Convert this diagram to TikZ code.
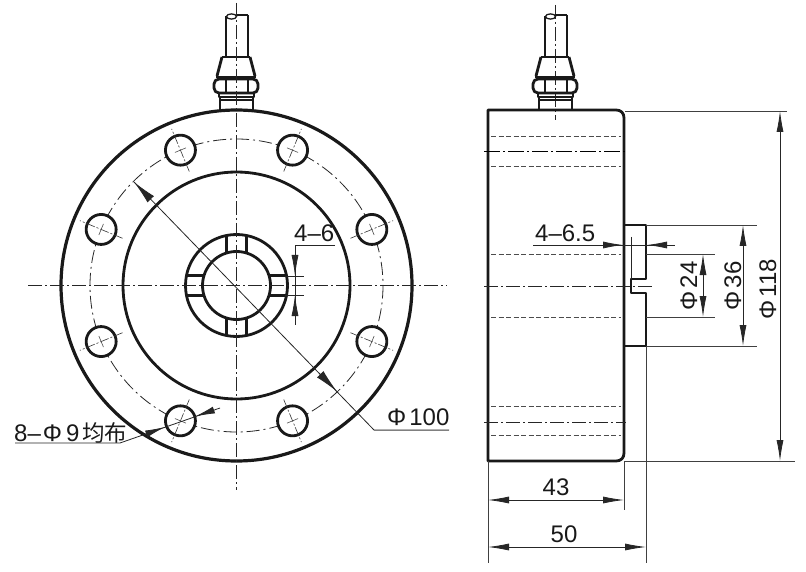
\documentclass[tikz,border=0pt]{standalone}
\usepackage{fontspec}
\setmainfont{Liberation Sans}
\newfontfamily\cjk{Noto Sans CJK SC}
\usetikzlibrary{arrows.meta}
\tikzset{
  x=1pt,y=-1pt,
  thickline/.style={line width=2.8pt,black!90,line join=round},
  medline/.style={line width=2pt,black!90,line join=round},
  thinline/.style={line width=0.8pt,black!75},
  dimline/.style={line width=0.8pt,black!85},
  cdash/.style={line width=0.8pt,black!85,dash pattern=on 14pt off 3pt on 2pt off 3pt},
  cdashdark/.style={line width=1pt,black,dash pattern=on 16pt off 3pt on 2pt off 3pt},
  hdash/.style={line width=0.8pt,black!70,dash pattern=on 5pt off 2.5pt},
  bcdash/.style={line width=0.8pt,black!85,dash pattern=on 13pt off 4pt on 2pt off 4pt},
  tips/.style={{Latex[length=21pt,width=7pt]}-{Latex[length=21pt,width=7pt]}},
  lbl/.style={inner sep=0pt,font=\fontsize{24}{26}\selectfont,text=black!90},
}
\newcommand{\plugshape}{%
  \draw[medline] (226,57) -- (226,16) (248,15) -- (248,57);
  \draw[medline] (236,15) -- (248,15);
  \draw[line width=1.3pt,black!90] (231.5,16.5) ellipse [x radius=5,y radius=2.6];
  \draw[medline] (222,57) -- (250,57);
  \draw[thickline] (222,57) -- (217,76) (250,57) -- (255,76);
  \draw[thickline] (216,77) -- (256,77);
  \draw[thickline,rounded corners=2pt] (217,79) -- (214,82) -- (214,90) -- (217,93) -- (255,93) -- (258,90) -- (258,82) -- (255,79) -- cycle;
  \draw[medline] (226,79) -- (226,93) (248,79) -- (248,93);
  \draw[medline] (219,93) -- (219,97) -- (254,97) -- (254,93);
  \draw[medline] (220,97) -- (220,109) (253,97) -- (253,109);
  \draw[medline] (220,100) -- (253,100);
}
\begin{document}
\begin{tikzpicture}
\useasboundingbox (0,0) rectangle (806,572);
\fill[white] (0,0) rectangle (806,572);

% ---- left view
\def\cx{236.5}\def\cy{285.5}
\plugshape
\draw[thickline,line width=3.2pt] (\cx,\cy) circle [radius=175.5];
\draw[thickline] (\cx,\cy) circle [radius=113.5];
\draw[bcdash] (\cx,\cy) circle [radius=146.5];
\foreach \a in {22.5,67.5,112.5,157.5,202.5,247.5,292.5,337.5}{
  \begin{scope}[shift={(\cx,\cy)}]
    \fill[white] (\a:146.5) circle [radius=15];
    \draw[thickline] (\a:146.5) circle [radius=15];
    \draw[line width=0.6pt,black!80,dash pattern=on 9pt off 2pt on 2pt off 2pt] (\a:123.5) -- (\a:169.5);
    \draw[line width=0.6pt,black!70] (\a:146.5) ++(\a+90:-6) -- ++(\a+90:12);
  \end{scope}
}
% hub
\draw[thickline] (\cx,\cy) circle [radius=51];
\draw[thickline] (\cx,\cy) circle [radius=34];
\foreach \a in {0,90,180,270}{
  \begin{scope}[shift={(\cx,\cy)},rotate=\a]
    \draw[line width=2.2pt,black!90] (33,10) -- (50,10) (33,-10) -- (50,-10);
  \end{scope}
}
\draw[cdash] (\cx,3) -- (\cx,490);
\draw[cdash] (28,\cy) -- (447,\cy);
% dim 4-6
\node[lbl,anchor=base west] (t46) at (294,242) {4–6};
\draw[dimline] (335,245) -- (295,245) -- (295,325);
\draw[dimline] (285,276) -- (304,276) (285,295) -- (304,295);
\draw[dimline,-{Latex[length=21pt,width=7pt]}] (295,254) -- (295,276);
\draw[dimline,-{Latex[length=21pt,width=7pt]}] (295,317) -- (295,295);
% dim diameter 100
\node[lbl,anchor=base west] (t100) at (387,425) {Φ\hspace{3pt}100};
\coordinate (dA) at (134,182);
\coordinate (dB) at (374,430);
\draw[dimline] (dA) -- (dB) -- (449,430);
\draw[dimline,-{Latex[length=24pt,width=9pt]}] (150,198.5) -- (dA);
\draw[dimline,-{Latex[length=24pt,width=9pt]}] (319,373) -- (337,391.5);
\draw[line width=1.4pt,black!50] (374,430.4) -- (449,430.4);
% holes label
\node[lbl,anchor=base west] (t8) at (14,441) {8–\hspace{2pt}Φ\hspace{4pt}9\hspace{3pt}{\cjk\fontsize{22.5}{24}\selectfont 均布}};
\draw[dimline] (15,443) -- (120,443) -- (220,408);
\draw[dimline,-{Latex[length=20pt,width=7pt]}] (146,434) -- (165,427);
\draw[dimline,-{Latex[length=20pt,width=7pt]}] (214,410) -- (195,416.5);

% ---- right view
\begin{scope}[xshift=319pt]
\draw[cdash] (236.5,5) -- (236.5,120);
\plugshape
\end{scope}
\draw[thickline] (488,110) -- (616,110) .. controls (621,110) and (624,113) .. (624,118)
  -- (624,453) .. controls (624,458) and (621,461) .. (616,461) -- (488,461) -- cycle;
\foreach \y in {136,166,254,317,406,435}{\draw[hdash] (491,\y) -- (621,\y);}
\draw[cdashdark] (484,152) -- (626,152);
\draw[cdash] (484,422) -- (626,422);
\draw[cdash] (484,286) -- (653,286);
% boss
\draw[thickline] (624,225) -- (646,225) -- (646,279) -- (631,279) -- (631,293) -- (646,293) -- (646,346) -- (624,346);
\draw[dimline] (631,237) -- (631,279);
% dims right
\draw[thinline] (625,111) -- (787,111) (625,461) -- (795,461);
\draw[thinline] (646,225) -- (757,225) (646,346) -- (757,346);
\draw[thinline] (646,254) -- (715,254) (646,317) -- (715,317);
\draw[thinline] (646,346) -- (646,563);
\draw[thinline] (488,461) -- (488,563);
\draw[thinline] (624,461) -- (624,510);
\draw[dimline,tips] (780,111) -- (780,461);
\draw[dimline,tips] (743,225) -- (743,346);
\draw[dimline,tips] (703,254) -- (703,317);
\draw[dimline,tips] (488,500) -- (624,500);
\draw[dimline,tips] (488,547) -- (646,547);
\node[lbl,rotate=90,anchor=base] (t24) at (697,286) {Φ\hspace{3pt}24};
\node[lbl,rotate=90,anchor=base] (t36) at (741,286) {Φ\hspace{3pt}36};
\node[lbl,rotate=90,anchor=base] (t118) at (776,289) {Φ\hspace{3pt}118};
\node[lbl,anchor=base] (t43) at (556,495) {43};
\node[lbl,anchor=base] (t50) at (564,542) {50};
% 4-6.5
\node[lbl,anchor=base west] (t465) at (535,242) {4–6.5};
\draw[dimline] (533,245) -- (675,245);
\draw[dimline,-{Latex[length=20pt,width=7pt]}] (604,245) -- (623,245);
\draw[dimline,-{Latex[length=20pt,width=7pt]}] (666,245) -- (647,245);
\end{tikzpicture}
\end{document}
